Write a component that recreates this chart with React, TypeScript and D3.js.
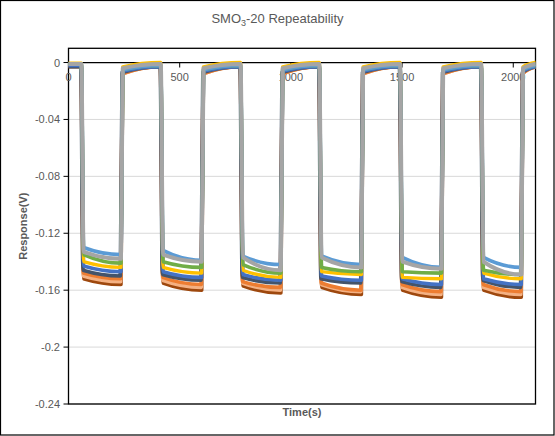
import React from 'react';
import * as d3 from 'd3';

const W = 555;
const H = 436;

const yTicks = [0, -0.04, -0.08, -0.12, -0.16, -0.2, -0.24];
const yTickLabels = ['0', '-0.04', '-0.08', '-0.12', '-0.16', '-0.2', '-0.24'];
const xTicks = [0, 500, 1000, 1500, 2000];
const xTickLabels = ['0', '500', '1000', '1500', '2000'];

// gas on (drop) and gas off (rise) times, s
const dropTimes = [58, 415, 774, 1128, 1491, 1856];
const riseTimes = [236, 599, 955, 1317, 1677, 2036];
const tEnd = 2100;

// series, drawn bottom layer first (gray last, on top)
const seriesNames = ['brown', 'salmon', 'orange', 'navy', 'blue', 'gold', 'green', 'lightblue', 'gray'];
const seriesColors = ['#9E480E', '#F4B183', '#ED7D31', '#44546A', '#4472C4', '#FFC000', '#70AD47', '#5B9BD5', '#A5A5A5'];
const seriesWidths = [3.6, 3.6, 3.6, 3.6, 3.6, 3.4, 3.6, 3.6, 4];
const timeShift = [0, -2, -2, -3, 0, 0, 0, 0, 0];

// response right after the drop, per cycle (V)
const lowStart = [
  [-0.152, -0.155, -0.157, -0.158, -0.160, -0.160],
  [-0.150, -0.153, -0.155, -0.156, -0.158, -0.158],
  [-0.148, -0.151, -0.154, -0.155, -0.156, -0.156],
  [-0.146, -0.149, -0.151, -0.152, -0.154, -0.153],
  [-0.143, -0.147, -0.149, -0.150, -0.152, -0.152],
  [-0.140, -0.144, -0.146, -0.147, -0.151, -0.148],
  [-0.135, -0.140, -0.142, -0.144, -0.147, -0.146],
  [-0.130, -0.132, -0.136, -0.136, -0.137, -0.137],
  [-0.133, -0.135, -0.137, -0.137, -0.140, -0.140],
];
// response at the end of the gas period, per cycle (V)
const lowEnd = [
  [-0.156, -0.160, -0.162, -0.163, -0.165, -0.165],
  [-0.154, -0.158, -0.160, -0.161, -0.163, -0.163],
  [-0.152, -0.156, -0.158, -0.160, -0.161, -0.161],
  [-0.150, -0.153, -0.155, -0.155, -0.158, -0.158],
  [-0.147, -0.151, -0.153, -0.153, -0.156, -0.156],
  [-0.144, -0.148, -0.151, -0.149, -0.152, -0.152],
  [-0.141, -0.144, -0.148, -0.147, -0.148, -0.149],
  [-0.135, -0.139, -0.142, -0.142, -0.144, -0.144],
  [-0.138, -0.140, -0.146, -0.144, -0.145, -0.149],
];
// value just after recovery, and baseline level in air
const riseKnee = [-0.007, -0.008, -0.008, -0.007, -0.006, -0.003, -0.005, -0.005, -0.004];
const highLevel = [-0.003, -0.003, -0.003, -0.003, -0.003, 0.0, -0.002, -0.002, -0.001];
const initLevel = [-0.003, -0.002, -0.002, -0.003, -0.002, -0.0005, -0.001, -0.001, -0.001];

const left = 68.5;
const right = 535.5;
const top = 48.3;
const bottom = 404;

const font = "'Liberation Sans', Arial, sans-serif";
const textColor = '#595959';

export default function App() {
  const x = d3.scaleLinear().domain([0, 2100]).range([left, right]);
  const y = d3.scaleLinear().domain([-0.24, 0.01]).range([bottom, top]);
  const line = d3
    .line<[number, number]>()
    .x((d) => x(d[0]))
    .y((d) => y(d[1]))
    .curve(d3.curveMonotoneX);

  const paths = seriesNames.map((name, i) => {
    const s = timeShift[i];
    const pts: [number, number][] = [[0, initLevel[i]]];
    dropTimes.forEach((td, k) => {
      pts.push([td + s, k === 0 ? initLevel[i] : highLevel[i]]);
      pts.push([td + s + 10, lowStart[i][k]]);
      pts.push([riseTimes[k] + s, lowEnd[i][k]]);
      pts.push([riseTimes[k] + s + 8, riseKnee[i]]);
    });
    pts.push([tEnd, highLevel[i]]);
    return { name, d: line(pts) || '', color: seriesColors[i], w: seriesWidths[i] };
  });

  return (
    <svg
      width={W}
      height={H}
      style={{ position: 'absolute', left: 0, top: 0, background: '#fff' }}
      fontFamily={font}
    >
      <rect x={0.5} y={0.5} width={W - 1.5} height={H - 1.5} fill="#fff" stroke="#000" strokeWidth={1.2} />
      <defs>
        <clipPath id="plotClip">
          <rect x={left} y={top} width={right - left} height={bottom - top} />
        </clipPath>
      </defs>
      {/* title */}
      <text x={277.5} y={23} textAnchor="middle" fontSize={13} fill={textColor}>
        SMO
        <tspan fontSize={9} dy={3}>3</tspan>
        <tspan dy={-3}>-20 Repeatability</tspan>
      </text>
      {/* gridlines */}
      {yTicks.map((t) =>
        t === 0 ? null : (
          <line key={t} x1={left} x2={right} y1={y(t)} y2={y(t)} stroke="#D9D9D9" strokeWidth={1} />
        )
      )}
      {/* plot border */}
      <rect x={left} y={top} width={right - left} height={bottom - top} fill="none" stroke="#000" strokeWidth={1.3} />
      {/* y ticks */}
      {yTicks.map((t, i) => (
        <g key={'y' + t}>
          <line x1={left - 5} x2={left} y1={y(t)} y2={y(t)} stroke="#000" strokeWidth={1} />
          <text x={60} y={y(t) + 4} textAnchor="end" fontSize={11} fill={textColor}>
            {yTickLabels[i]}
          </text>
        </g>
      ))}
      {/* x axis at y=0 */}
      <line x1={left} x2={right} y1={y(0)} y2={y(0)} stroke="#000" strokeWidth={1.3} />
      {xTicks.map((t, i) => (
        <g key={'x' + t}>
          <line x1={x(t)} x2={x(t)} y1={y(0)} y2={y(0) + 5} stroke="#000" strokeWidth={1} />
          <text x={x(t)} y={y(0) + 18} textAnchor="middle" fontSize={11} fill={textColor}>
            {xTickLabels[i]}
          </text>
        </g>
      ))}
      {/* series */}
      <g clipPath="url(#plotClip)">
        {paths.map((p) => (
          <path
            key={p.name}
            d={p.d}
            fill="none"
            stroke={p.color}
            strokeWidth={p.w}
            strokeLinejoin="round"
            strokeLinecap="round"
          />
        ))}
      </g>
      {/* axis titles */}
      <text
        transform={`translate(24,${(top + bottom) / 2}) rotate(-90)`}
        textAnchor="middle"
        dominantBaseline="middle"
        fontSize={11}
        fontWeight="bold"
        fill={textColor}
      >
        Response(V)
      </text>
      <text x={(left + right) / 2} y={416} textAnchor="middle" fontSize={11} fontWeight="bold" fill={textColor}>
        Time(s)
      </text>
    </svg>
  );
}
